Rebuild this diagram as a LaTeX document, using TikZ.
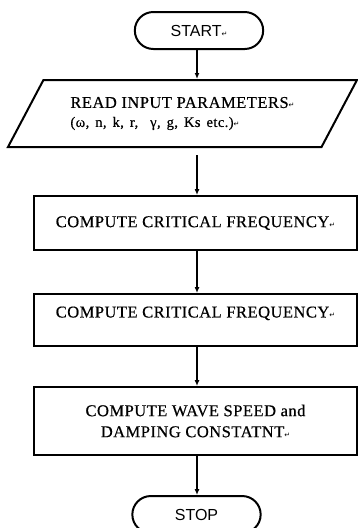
\documentclass[tikz,border=0pt]{standalone}
\usepackage{fontspec}
\setmainfont{Liberation Serif}[LetterSpace=3, FakeBold=0.5]
\setsansfont{Liberation Sans}
\newfontfamily\markfont{DejaVu Sans}
\usepackage{tikz}
\usetikzlibrary{shapes.geometric, shapes.misc, arrows.meta, positioning}

\newcommand{\pmark}{{\markfont\fontsize{7}{7}\selectfont ↵}}

\begin{document}
\begin{tikzpicture}[x=1pt, y=1pt, >={Latex[length=6pt,width=5pt]},
					terminal/.style={rounded rectangle, draw, line width=2pt, minimum height=37pt, minimum width=135pt, font=\sffamily\fontsize{16}{18}\selectfont},
					inout/.style={trapezium, trapezium left angle=43, trapezium right angle=137, trapezium stretches body, draw, line width=2pt, minimum height=67pt, minimum width=349pt, align=left, inner sep=0pt, font=\fontsize{16.5}{21}\selectfont},
					process/.style={rectangle, draw, line width=2pt, minimum width=323pt, align=center, inner sep=0pt, font=\fontsize{16.5}{21}\selectfont},
					arrow/.style={->, line width=1.2pt}
				]
					\useasboundingbox (0,0) rectangle (358,-528);
					
					% Nodes
					\node[terminal] (start) at (199,-30.5) {START\pmark};
					\node[inout, below=29pt of start, xshift=-16.5pt] (para) {READ INPUT PARAMETERS\pmark\\[-2pt]{\fontsize{14.5}{16}\selectfont\spaceskip=6pt (ω, n, k, r,\ \ γ, g, Ks etc.)\pmark}};
					\node[process, minimum height=54pt, below=47pt of para, xshift=13pt] (crit1) {COMPUTE CRITICAL FREQUENCY\pmark};
					\node[process, minimum height=52pt, text depth=16pt, below=42pt of crit1] (crit2) {COMPUTE CRITICAL FREQUENCY\pmark};
					\node[process, minimum height=68pt, below=39pt of crit2] (wave) {COMPUTE WAVE SPEED and\\DAMPING CONSTATNT\pmark};
					\node[terminal, below=39pt of wave, xshift=1pt] (stop) {STOP};
					
					% Arrows
					\coordinate (axis) at (197,0);
					\draw[arrow] (axis |- start.south) -- (axis |- para.north);
					\draw[arrow, shorten <=7pt] (axis |- para.south) -- (axis |- crit1.north);
					\draw[arrow] (axis |- crit1.south) -- (axis |- crit2.north);
					\draw[arrow] (axis |- crit2.south) -- (axis |- wave.north);
					\draw[arrow] (axis |- wave.south) -- (axis |- stop.north);
				\end{tikzpicture}
\end{document}
